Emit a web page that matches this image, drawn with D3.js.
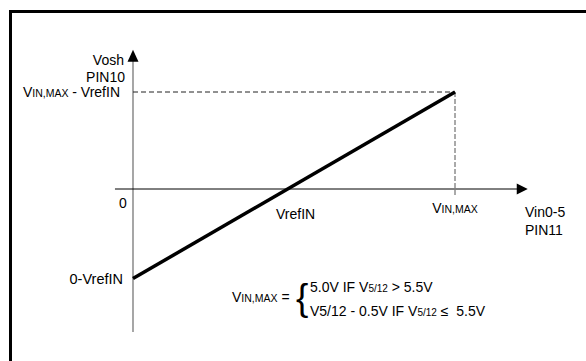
<!DOCTYPE html>
<html><head><meta charset="utf-8">
<script src="https://cdn.jsdelivr.net/npm/d3@7"></script>
<style>
html,body{margin:0;padding:0;background:#fff;}
svg{display:block;}
text{font-family:"Liberation Sans",Arial,sans-serif;fill:#000;}
</style></head>
<body>
<script>
// ---- data ----
const vRefIN = 2.4;          // VrefIN (relative units)
const vInMax = 5.0;          // VIN,MAX
const transferX = [0, vInMax];                       // Vin0-5 (PIN11)
const transferY = [0 - vRefIN, vInMax - vRefIN];     // Vosh (PIN10)
const xTickValues = [0, vRefIN, vInMax];
const xTickLabels = ["0", "VrefIN", "VIN,MAX"];
const yTickValues = [vInMax - vRefIN, 0 - vRefIN];
const yTickLabels = ["VIN,MAX - VrefIN", "0-VrefIN"];
const formulaLines = ["5.0V IF V5/12 > 5.5V", "V5/12 - 0.5V IF V5/12 \u2264\u00a0 5.5V"];

const W = 586, H = 361;
const svg = d3.select("body").append("svg").attr("width", W).attr("height", H);

// frame (only top and left visible in the reference)
svg.append("rect").attr("x", 10.5).attr("y", 11.5).attr("width", 700).attr("height", 500)
  .attr("fill", "none").attr("stroke", "#000").attr("stroke-width", 3);

const x = d3.scaleLinear().domain([0, vInMax]).range([133, 455]);
const y = d3.scaleLinear().domain([0, vInMax - vRefIN]).range([189, 92]);

const g = svg.append("g");

// y axis (grey)
g.append("line").attr("x1", x(0)).attr("x2", x(0)).attr("y1", y(-3.83)).attr("y2", y(3.5))
  .attr("stroke", "#777").attr("stroke-width", 1.3);
g.append("path").attr("d", `M${x(0)},${y(3.73)} L${x(0)-5.5},${y(3.73)+12} L${x(0)+5.5},${y(3.73)+12} Z`).attr("fill", "#000");

// x axis (black)
g.append("line").attr("x1", x(-0.28)).attr("x2", x(6.0)).attr("y1", y(0)).attr("y2", y(0))
  .attr("stroke", "#000").attr("stroke-width", 1);
g.append("path").attr("d", `M${x(6.13)},${y(0)} L${x(6.13)-11},${y(0)-5.5} L${x(6.13)-11},${y(0)+5.5} Z`).attr("fill", "#000");

// dashed guides
g.append("line").attr("x1", x(0)).attr("x2", x(vInMax)).attr("y1", y(vInMax - vRefIN)).attr("y2", y(vInMax - vRefIN))
  .attr("stroke", "#222").attr("stroke-width", 1).attr("stroke-dasharray", "5,3");
g.append("line").attr("x1", x(vInMax)).attr("x2", x(vInMax)).attr("y1", y(vInMax - vRefIN)).attr("y2", y(0) + 6)
  .attr("stroke", "#555").attr("stroke-width", 1).attr("stroke-dasharray", "5,2");

// transfer line
const line = d3.line().x((d, i) => x(transferX[i])).y(d => y(d));
g.append("path").datum(transferY).attr("d", line)
  .attr("fill", "none").attr("stroke", "#000").attr("stroke-width", 3.5);

// helper for text with small-caps segments
function rich(sel, parts, px, py, anchor, fs) {
  const t = sel.append("text").attr("x", px).attr("y", py).attr("text-anchor", anchor || "start").attr("font-size", fs || 14);
  parts.forEach(p => t.append("tspan").attr("font-size", p[1]).text(p[0]));
  return t;
}
function splitLabel(s) {
  return s.replace(/VIN,MAX/g, "\u0001").split(/(\u0001)/).filter(d => d !== "")
    .flatMap(d => d === "\u0001" ? [["V", 14], ["IN,MAX", 10.5]] : [[d, 14]]);
}

// axis titles
g.append("text").attr("x", 124).attr("y", 65).attr("text-anchor", "end").attr("font-size", 14).text("Vosh");
g.append("text").attr("x", 125).attr("y", 82).attr("text-anchor", "end").attr("font-size", 14).text("PIN10");
g.append("text").attr("x", 525).attr("y", 217).attr("font-size", 14).text("Vin0-5");
g.append("text").attr("x", 525).attr("y", 235).attr("font-size", 14).text("PIN11");

// y labels
rich(g, splitLabel(yTickLabels[0]), x(0) - 13, y(yTickValues[0]) + 5, "end");
rich(g, splitLabel(yTickLabels[1]), x(0) - 10, y(yTickValues[1]) + 5, "end", 14.5).selectAll("tspan").attr("font-size", 14.5);

// x labels
g.append("text").attr("x", x(xTickValues[0]) - 10).attr("y", y(0) + 19).attr("text-anchor", "middle").attr("font-size", 14).text(xTickLabels[0]);
g.append("text").attr("x", x(xTickValues[1]) + 8).attr("y", y(0) + 30).attr("text-anchor", "middle").attr("font-size", 14).text(xTickLabels[1]);
rich(g, splitLabel(xTickLabels[2]), x(xTickValues[2]), y(0) + 24, "middle");

// formula
rich(g, [["V", 14], ["IN,MAX", 10.5], [" =", 14]], 232, 302, "start");
g.append("text").attr("x", 296).attr("y", 310).attr("font-size", 37).attr("font-weight", "normal").text("{");
function formula(s, py) {
  const idx = s.indexOf("IF V5/12");
  const before = s.slice(0, idx + 3);
  const after = s.slice(idx + 8);
  rich(g, [[before, 14], ["V", 14], ["5/12", 10], [after, 14]], 310, py, "start");
}
formula(formulaLines[0], 292);
formula(formulaLines[1], 316);
</script>
</body></html>
